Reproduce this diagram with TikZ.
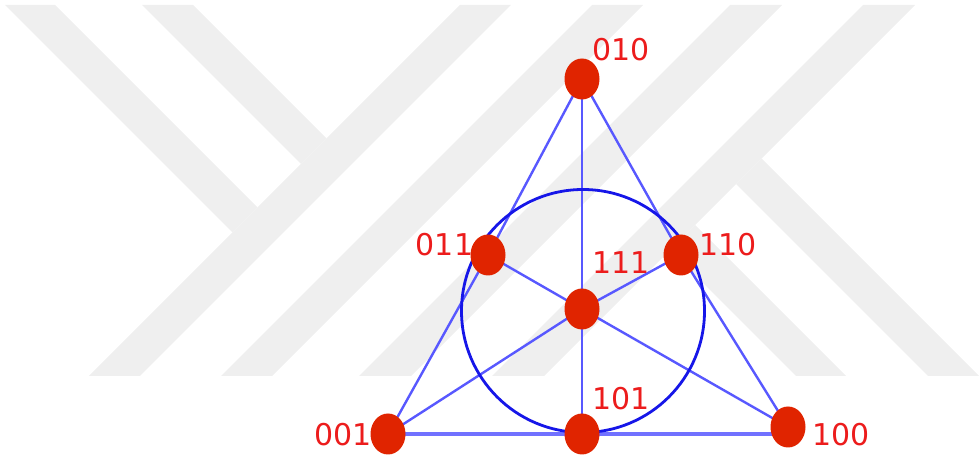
\documentclass[tikz,border=0pt]{standalone}
\usepackage{fontspec}
\usepackage{tikz}
\usetikzlibrary{shapes.geometric}
\newfontfamily\labfont{DejaVu Sans}
\definecolor{wmgray}{RGB}{239,239,239}
\definecolor{fnode}{RGB}{224,36,0}
\definecolor{flab}{RGB}{236,28,28}
\definecolor{fline}{RGB}{88,88,255}
\definecolor{fcirc}{RGB}{22,22,232}
\pgfdeclarelayer{wmark}
\pgfdeclarelayer{back}
\pgfsetlayers{wmark,back,main}
\tikzset{
  wm/.style={fill=wmgray, draw=none},
  pt/.style={ellipse, fill=fnode, draw=none, inner sep=0pt,
             minimum width=17.5pt, minimum height=20.5pt},
  lab/.style={text=flab, inner sep=0pt, font=\labfont\fontsize{15}{18}\selectfont},
  ln/.style={fline, line width=1.2pt},
  base/.style={fline!85!white, line width=2pt},
  rim/.style={fcirc, line width=1.4pt},
}

\begin{document}
\begin{tikzpicture}[x=0.5pt, y=-0.5pt]
    \useasboundingbox (0,0) rectangle (980,464);
    % points of the plane
    \node[pt] (p010) at (582,79) {};
    \node[pt] (p011) at (488,255) {};
    \node[pt] (p110) at (681,255) {};
    \node[pt] (p111) at (582,309) {};
    \node[pt] (p001) at (388,434) {};
    \node[pt] (p101) at (582,434) {};
    \node[pt] (p100) at (788,427) {};
    \begin{pgfonlayer}{back}
      % lines
      \draw[ln] (p010.center) -- (p011.center) -- (p001.center);
      \draw[ln] (p010.center) -- (p110.center) -- (p100.center);
      \draw[base] (p001.center) -- (p001.center -| p100.center);
      \draw[ln] (p010.center) -- (p111.center) -- (p101.center);
      \draw[ln] (p011.center) -- (p111.center) -- (p100.center);
      \draw[ln] (p110.center) -- (p111.center) -- (p001.center);
      \draw[rim] (583,311) circle (121.5);
      % labels
      \node[lab] (l010) at (621,49.5) {010};
      \node[lab] (l011) at (444.5,244.5) {011};
      \node[lab] (l110) at (728,245) {110};
      \node[lab] (l111) at (621,263) {111};
      \node[lab] (l101) at (621,398.5) {101};
      \node[lab] (l001) at (343,435) {001};
      \node[lab] (l100) at (841,435) {100};
    \end{pgfonlayer}
    \begin{pgfonlayer}{wmark}
      \fill[wm] (5,5) -- (55,5) -- (257.5,207.5) -- (232.5,232.5) -- cycle;
      \fill[wm] (142,5) -- (193,5) -- (326.5,138.5) -- (301,164) -- cycle;
      \fill[wm] (460,5) -- (511,5) -- (140,376) -- (89,376) -- cycle;
      \fill[wm] (592,5) -- (643,5) -- (272,376) -- (221,376) -- cycle;
      \fill[wm] (730,5) -- (782,5) -- (411,376) -- (359,376) -- cycle;
      \fill[wm] (863,5) -- (915,5) -- (544,376) -- (492,376) -- cycle;
      \fill[wm] (695,225) -- (846,376) -- (796,376) -- (670,250) -- cycle;
      \fill[wm] (761.5,158.5) -- (979,376) -- (928,376) -- (736,184) -- cycle;
    \end{pgfonlayer}
\end{tikzpicture}
\end{document}
